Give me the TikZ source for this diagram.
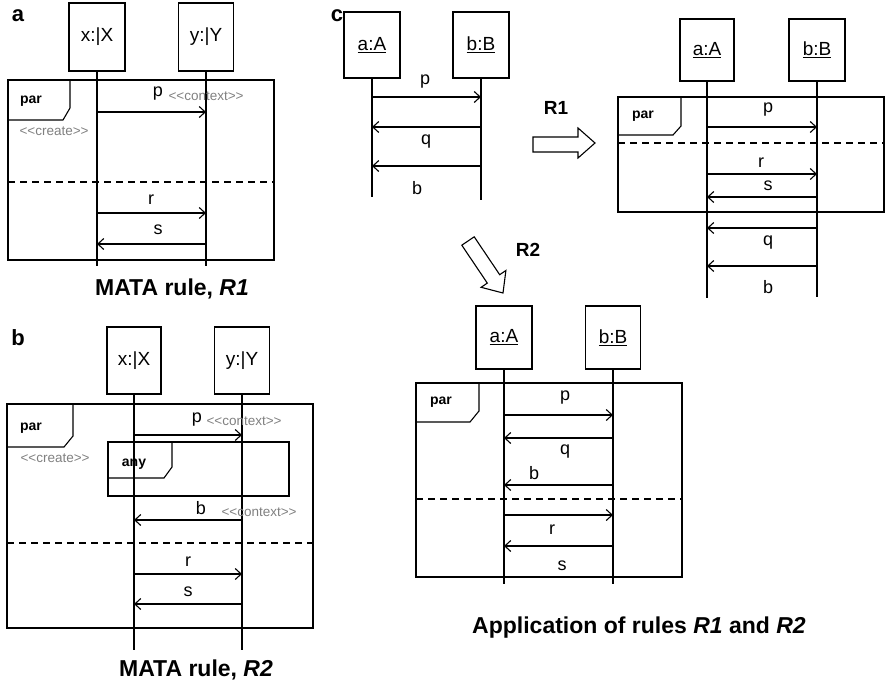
\documentclass[tikz,border=0pt]{standalone}
\usepackage{fontspec}
\setmainfont{Liberation Sans}
\usetikzlibrary{arrows.meta}
\newcommand\stereo[1]{<\kern0pt<#1>\kern0pt>}
\begin{document}
\begin{tikzpicture}[x=1pt,y=-1pt,
  line width=1.1pt,
  obj/.style={draw,line width=1.2pt,minimum width=56pt,inner sep=0pt,font=\fontsize{19}{19}\selectfont},
  life/.style={line width=1.1pt},
  msg/.style={line width=1.1pt,-{Straight Barb[length=6pt,width=11pt,line width=1.1pt]}},
  frm/.style={line width=1.4pt},
  tab/.style={line width=1.1pt},
  dsh/.style={line width=1.4pt,dash pattern=on 7pt off 5pt},
  lbl/.style={font=\fontsize{18}{18}\selectfont,inner sep=0pt},
  ster/.style={font=\fontsize{13.5}{13.5}\selectfont,text=gray,inner sep=0pt},
  kw/.style={font=\bfseries\fontsize{14}{14}\selectfont,inner sep=0pt},
  capt/.style={font=\bfseries\fontsize{23}{23}\selectfont,inner sep=0pt},
  panel/.style={font=\bfseries\fontsize{22}{22}\selectfont,inner sep=0pt},
  blk/.style={line width=1.1pt,fill=white}]
\useasboundingbox (0,0) rectangle (885,686);

% ================= panel a
\node[panel] (la) at (18,16) {a};
\node[obj,minimum height=68pt] (xa) at (97,37) {x:|X};
\node[obj,minimum height=68pt,minimum width=55pt] (ya) at (206,37) {y:|Y};
\draw[frm] (8,80) rectangle (274,260);
\node[kw] (para) at (31,101) {par};
\draw[tab] (8,120) -- (63,120) -- (70,108) -- (70,80);
\draw[dsh] (8,182) -- (274,182);
\draw[life] (xa.south) -- (xa.south |- 0,266);
\draw[life] (ya.south) -- (ya.south |- 0,266);
\draw[msg] (xa |- 0,112) -- (ya |- 0,112);
\node[lbl] (pa) at (158,94) {p};
\node[ster,anchor=west] (ca) at (168,96) {\stereo{context}};
\node[ster,anchor=west] (cra) at (19,131) {\stereo{create}};
\draw[msg] (xa |- 0,213) -- (ya |- 0,213);
\node[lbl] (ra) at (151,200) {r};
\draw[msg] (ya |- 0,244) -- (xa |- 0,244);
\node[lbl] (sa) at (158,230) {s};
\node[capt] (capa) at (172,289) {MATA rule, \textit{R1}};

% ================= panel b
\node[panel] (lb) at (18,338) {b};
\node[obj,minimum height=67pt,minimum width=54pt] (xb) at (134,360.5) {x:|X};
\node[obj,minimum height=67pt,minimum width=55pt] (yb) at (242,360.5) {y:|Y};
\draw[frm] (7,404) rectangle (313,628);
\node[kw] (parb) at (31,428) {par};
\draw[tab] (7,447) -- (64,447) -- (73,436) -- (73,404);
\draw[frm] (108,442) rectangle (289,496);
\node[kw] (anyb) at (134,464) {any};
\draw[tab] (108,478) -- (164,478) -- (172,467) -- (172,442);
\draw[dsh] (7,543) -- (313,543);
\draw[life] (xb.south) -- (xb.south |- 0,650);
\draw[life] (yb.south) -- (yb.south |- 0,650);
\draw[msg] (xb |- 0,435) -- (yb |- 0,435);
\node[lbl] (pb) at (197,420) {p};
\node[ster,anchor=west] (cb) at (206,421) {\stereo{context}};
\node[ster,anchor=west] (crb) at (20,458) {\stereo{create}};
\draw[msg] (yb |- 0,520) -- (xb |- 0,520);
\node[lbl] (bb) at (201,508) {b};
\node[ster,anchor=west] (cb2) at (221,512) {\stereo{context}};
\draw[msg] (xb |- 0,574) -- (yb |- 0,574);
\node[lbl] (rb) at (188,562) {r};
\draw[msg] (yb |- 0,604) -- (xb |- 0,604);
\node[lbl] (sb) at (188,592) {s};
\node[capt] (capb) at (196,670) {MATA rule, \textit{R2}};

% ================= panel c, source
\node[panel] (lc) at (337,16) {c};
\node[obj,minimum height=66pt] (a1) at (372,45) {\underline{a:A}};
\node[obj,minimum height=66pt] (b1) at (481,45) {\underline{b:B}};
\draw[life] (a1.south) -- (a1.south |- 0,197);
\draw[life] (b1.south) -- (b1.south |- 0,200);
\draw[msg] (a1 |- 0,97) -- (b1 |- 0,97);
\node[lbl] (p1) at (425,82) {p};
\draw[msg] (b1 |- 0,127) -- (a1 |- 0,127);
\node[lbl] (q1) at (426,142) {q};
\draw[msg] (b1 |- 0,166) -- (a1 |- 0,166);
\node[lbl] (bl1) at (417,188) {b};

% R1 block arrow
\draw[blk] (533,137) -- (578,137) -- (578,128) -- (595,143) -- (578,158) -- (578,152) -- (533,152) -- cycle;
\node[font=\bfseries\fontsize{19}{19}\selectfont,inner sep=0pt] (r1) at (556,108) {R1};
% R2 block arrow
\draw[blk] (461.8,245.2) -- (487.3,283.1) -- (481.1,287.3) -- (503,293) -- (505.9,270.5) -- (499.7,274.7) -- (474.2,236.8) -- cycle;
\node[font=\bfseries\fontsize{19}{19}\selectfont,inner sep=0pt] (r2) at (528,250) {R2};

% ================= panel c, after R1
\node[obj,minimum height=62pt,minimum width=54pt] (a2) at (707,50) {\underline{a:A}};
\node[obj,minimum height=62pt] (b2) at (817,50) {\underline{b:B}};
\draw[frm] (618,97) rectangle (884,212);
\node[kw] (par2) at (643,116) {par};
\draw[tab] (618,135) -- (673,135) -- (681,126) -- (681,97);
\draw[dsh] (618,143) -- (884,143);
\draw[life] (a2.south) -- (a2.south |- 0,298);
\draw[life] (b2.south) -- (b2.south |- 0,297);
\draw[msg] (a2 |- 0,127) -- (b2 |- 0,127);
\node[lbl] (p2) at (768,110) {p};
\draw[msg] (a2 |- 0,174) -- (b2 |- 0,174);
\node[lbl] (rr2) at (761,163) {r};
\draw[msg] (b2 |- 0,197) -- (a2 |- 0,197);
\node[lbl] (s2) at (768,186) {s};
\draw[msg] (b2 |- 0,228) -- (a2 |- 0,228);
\node[lbl] (q2) at (768,243) {q};
\draw[msg] (b2 |- 0,266) -- (a2 |- 0,266);
\node[lbl] (bl2) at (768,287) {b};

% ================= panel c, after R2
\node[obj,minimum height=63pt] (a3) at (504,337.5) {\underline{a:A}};
\node[obj,minimum height=63pt,minimum width=55pt] (b3) at (613,337.5) {\underline{b:B}};
\draw[frm] (416,383) rectangle (682,577);
\node[kw] (par3) at (441,402) {par};
\draw[tab] (416,422) -- (470,422) -- (479,411) -- (479,383);
\draw[dsh] (416,499) -- (682,499);
\draw[life] (a3.south) -- (a3.south |- 0,584);
\draw[life] (b3.south) -- (b3.south |- 0,584);
\draw[msg] (a3 |- 0,415) -- (b3 |- 0,415);
\node[lbl] (p3) at (565,398) {p};
\draw[msg] (b3 |- 0,438) -- (a3 |- 0,438);
\node[lbl] (q3) at (565,452) {q};
\draw[msg] (b3 |- 0,485) -- (a3 |- 0,485);
\node[lbl] (bl3) at (534,473) {b};
\draw[msg] (a3 |- 0,515) -- (b3 |- 0,515);
\node[lbl] (rr3) at (552,530) {r};
\draw[msg] (b3 |- 0,546) -- (a3 |- 0,546);
\node[lbl] (s3) at (562,566) {s};
\node[capt] (capc) at (639,628) {Application of rules \textit{R1} and \textit{R2}};
\end{tikzpicture}
\end{document}
